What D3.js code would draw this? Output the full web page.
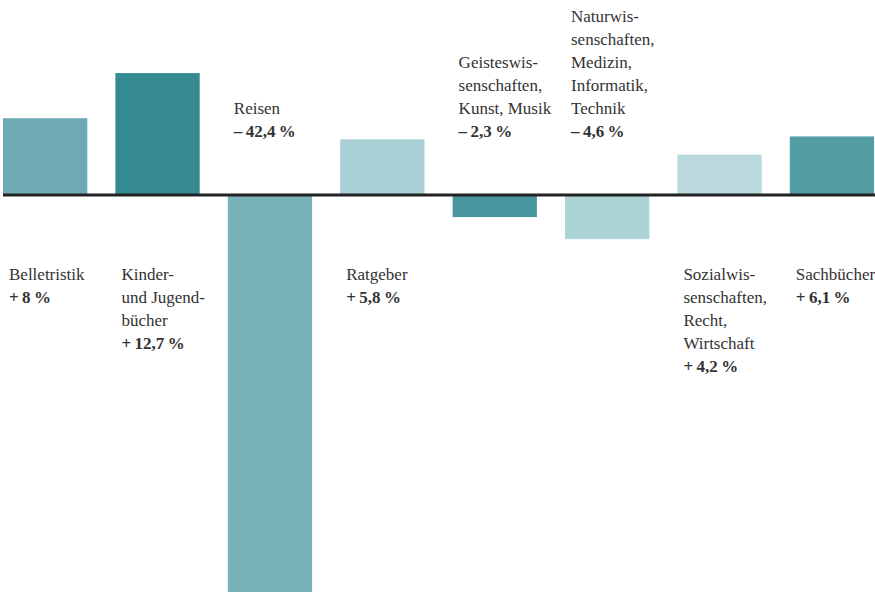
<!DOCTYPE html>
<html>
<head>
<meta charset="utf-8">
<script src="https://cdn.jsdelivr.net/npm/d3@7/dist/d3.min.js"></script>
<style>
  body { margin: 0; background: #fff; }
  svg { display: block; }
</style>
</head>
<body>
<div id="chart"></div>
<script>
// Categories (label lines), values in percent, bar colours
var categories = [
    ["Belletristik"],
    ["Kinder-", "und Jugend-", "bücher"],
    ["Reisen"],
    ["Ratgeber"],
    ["Geisteswis-", "senschaften,", "Kunst, Musik"],
    ["Naturwis-", "senschaften,", "Medizin,", "Informatik,", "Technik"],
    ["Sozialwis-", "senschaften,", "Recht,", "Wirtschaft"],
    ["Sachbücher"]
];
var values = [8, 12.7, -42.4, 5.8, -2.3, -4.6, 4.2, 6.1];
var barColors = ["#6eaab4", "#358b91", "#7ab2ba", "#a7cfd4", "#4a96a0", "#acd4d7", "#bad9df", "#529ea4"];

var width = 875;
var height = 592;
var baseline = 195;
var pxPerUnit = 9.6;
var lineHeight = 23;
var step = 112.4;

var svg = d3.select("#chart")
    .append("svg")
    .attr("width", width)
    .attr("height", height);

var x = d3.scaleBand()
    .domain(d3.range(values.length))
    .range([3, 3 + step * (values.length - 0.25)])
    .paddingInner(0.25)
    .paddingOuter(0);

var y = d3.scaleLinear()
    .domain([0, 1])
    .range([baseline, baseline - pxPerUnit]);

// Bars
svg.selectAll("rect.bar")
    .data(values)
    .enter().append("rect")
    .attr("class", "bar")
    .attr("x", function(d, i) { return x(i); })
    .attr("width", x.bandwidth())
    .attr("y", function(d) { return Math.min(y(d), y(0)); })
    .attr("height", function(d) { return Math.abs(y(d) - y(0)); })
    .style("fill", function(d, i) { return barColors[i]; });

// Zero line
svg.append("line")
    .attr("x1", 3)
    .attr("x2", width)
    .attr("y1", y(0))
    .attr("y2", y(0))
    .style("stroke", "#222")
    .style("stroke-width", 3);

function formatValue(v) {
    var sign = v < 0 ? "\u2013" : "+";
    return sign + "\u2009" + String(Math.abs(v)).replace(".", ",") + "\u2009%";
}

// Labels: below the line for gains, above it for losses
var labels = svg.selectAll("g.label")
    .data(values)
    .enter().append("g")
    .attr("class", "label")
    .attr("transform", function(d, i) {
        var lines = categories[i].length + 1;
        var top = d >= 0 ? 280 : 137 - (lines - 1) * lineHeight;
        return "translate(" + (x(i) + 6) + "," + top + ")";
    });

labels.each(function(d, i) {
    var g = d3.select(this);
    categories[i].forEach(function(line, k) {
        g.append("text")
            .attr("y", k * lineHeight)
            .text(line);
    });
    g.append("text")
        .attr("y", categories[i].length * lineHeight)
        .style("font-weight", "bold")
        .text(formatValue(d));
});

labels.selectAll("text")
    .style("font-family", "'Liberation Serif', serif")
    .style("font-size", "17px")
    .style("fill", "#333");
</script>
</body>
</html>
